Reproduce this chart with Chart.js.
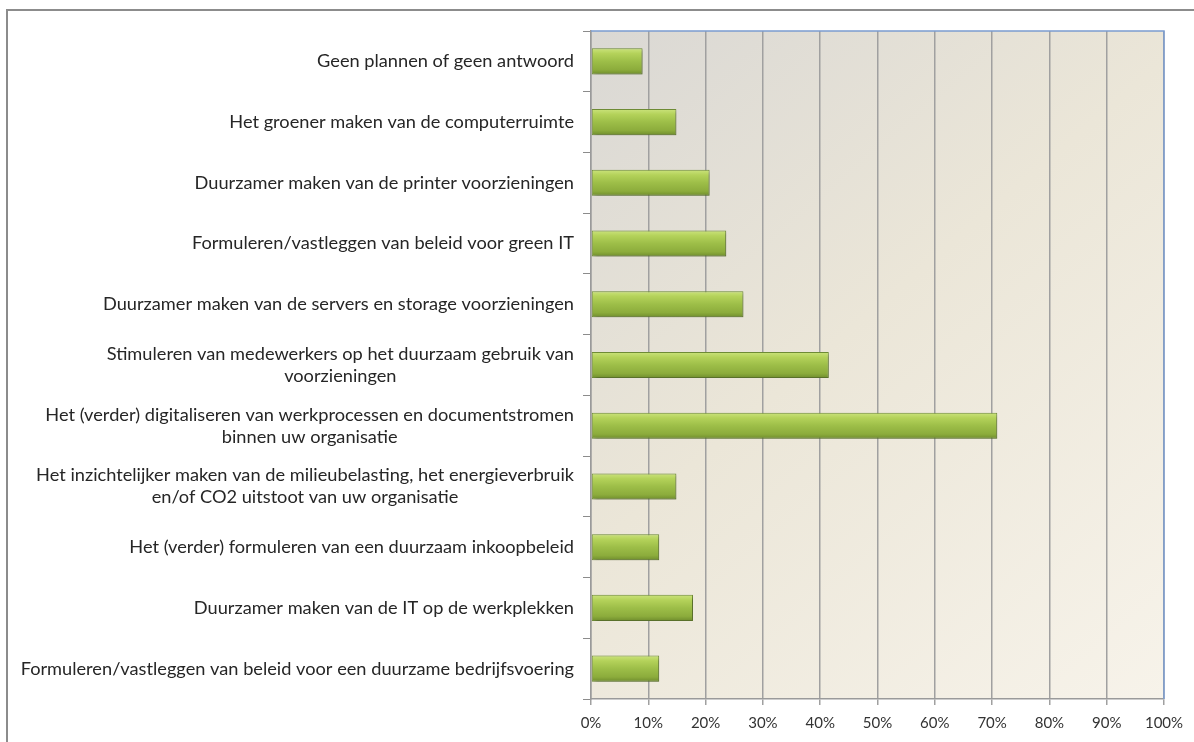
<!DOCTYPE html>
<html>
<head>
<meta charset="utf-8">
<script src="https://cdn.jsdelivr.net/npm/chart.js@4.4.1/dist/chart.umd.min.js"></script>
<style>
  html, body { margin: 0; padding: 0; background: #ffffff; }
  #wrap { position: relative; width: 1194px; height: 742px; overflow: hidden; }
  #frame { position: absolute; left: 6px; top: 9px; width: 1200px; height: 760px;
           border-top: 2px solid #8c8c8c; border-left: 2px solid #8c8c8c; box-sizing: border-box; pointer-events: none; }
  canvas { position: absolute; left: 0; top: 0; }
</style>
</head>
<body>
<div id="wrap">
  <canvas id="c" width="1194" height="742"></canvas>
  <div id="frame"></div>
</div>
<script>
// ---- data ----
const categories = [
  ['Geen plannen of geen antwoord'],
  ['Het groener maken van de computerruimte'],
  ['Duurzamer maken van de printer voorzieningen'],
  ['Formuleren/vastleggen van beleid voor green IT'],
  ['Duurzamer maken van de servers en storage voorzieningen'],
  ['Stimuleren van medewerkers op het duurzaam gebruik van', 'voorzieningen'],
  ['Het (verder) digitaliseren van werkprocessen en documentstromen', 'binnen uw organisatie'],
  ['Het inzichtelijker maken van de milieubelasting, het energieverbruik', 'en/of CO2 uitstoot van uw organisatie'],
  ['Het (verder) formuleren van een duurzaam inkoopbeleid'],
  ['Duurzamer maken van de IT op de werkplekken'],
  ['Formuleren/vastleggen van beleid voor een duurzame bedrijfsvoering']
];
const percentages = [9.0, 14.9, 20.7, 23.6, 26.6, 41.5, 70.9, 14.9, 11.9, 17.8, 11.9];
const xTickLabels = ['0%', '10%', '20%', '30%', '40%', '50%', '60%', '70%', '80%', '90%', '100%'];

// ---- layout / style ----
const PLOT_LEFT = 591, PLOT_BOTTOM = 699;
const LABEL_RIGHT = 574;
const LABEL_WIDTH_TARGET = 554;
const FONT_FAMILY = 'Lato, "Open Sans", "DejaVu Sans", sans-serif';

// fit label font so widest line spans like the reference
const mctx = document.createElement('canvas').getContext('2d');
mctx.font = '10px ' + FONT_FAMILY;
let widest = 0;
categories.forEach(lines => lines.forEach(l => { widest = Math.max(widest, mctx.measureText(l).width); }));
const labelFontSize = Math.max(10, Math.min(20, 10 * LABEL_WIDTH_TARGET / widest));

const plotBackground = {
  id: 'plotBackground',
  beforeDraw(chart) {
    const { ctx, chartArea: a } = chart;
    const g = ctx.createLinearGradient(a.left, a.top, a.right, a.bottom);
    g.addColorStop(0, '#dad8d4');
    g.addColorStop(0.45, '#ebe6d8');
    g.addColorStop(1, '#f7f3ea');
    ctx.save();
    ctx.fillStyle = g;
    ctx.fillRect(a.left, a.top, a.right - a.left, a.bottom - a.top);
    ctx.restore();
  },
  beforeDatasetsDraw(chart) {
    const ctx = chart.ctx;
    ctx.save();
    ctx.shadowColor = 'rgba(0,0,0,0.28)';
    ctx.shadowBlur = 3;
    ctx.shadowOffsetX = 2;
    ctx.shadowOffsetY = 2;
  },
  afterDatasetsDraw(chart) {
    chart.ctx.restore();
  },
  afterDraw(chart) {
    const { ctx, chartArea: a } = chart;
    ctx.save();
    ctx.strokeStyle = '#7b9ccf';
    ctx.lineWidth = 1.5;
    ctx.beginPath();
    ctx.moveTo(a.left, a.top);
    ctx.lineTo(a.right, a.top);
    ctx.lineTo(a.right, a.bottom);
    ctx.stroke();
    const yScale = chart.scales.y;
    ctx.fillStyle = '#262626';
    ctx.font = labelFontSize.toFixed(2) + 'px ' + FONT_FAMILY;
    ctx.textAlign = 'center';
    ctx.textBaseline = 'middle';
    const lh = 22;
    categories.forEach((lines, i) => {
      const cy = yScale.getPixelForValue(i);
      let w = 0;
      lines.forEach(l => { w = Math.max(w, ctx.measureText(l).width); });
      const cx = LABEL_RIGHT - w / 2;
      const y0 = cy - (lines.length - 1) * lh / 2;
      lines.forEach((l, k) => ctx.fillText(l, cx, y0 + k * lh));
    });
    ctx.restore();
  }
};

function barGradient(context) {
  const chart = context.chart;
  const yScale = chart.scales.y;
  if (!yScale || context.dataIndex === undefined) return '#9bbb59';
  const cy = yScale.getPixelForValue(context.dataIndex);
  if (!isFinite(cy)) return '#9bbb59';
  const h = 26;
  const g = chart.ctx.createLinearGradient(0, cy - h / 2, 0, cy + h / 2);
  g.addColorStop(0, '#cbe37c');
  g.addColorStop(0.2, '#b4d25a');
  g.addColorStop(0.5, '#9dbe48');
  g.addColorStop(0.82, '#8cac3c');
  g.addColorStop(1, '#6f8d2d');
  return g;
}

new Chart(document.getElementById('c'), {
  type: 'bar',
  data: {
    labels: categories.map(c => c.join(' ')),
    datasets: [{
      data: percentages,
      backgroundColor: barGradient,
      borderColor: '#6f8c35',
      borderWidth: 1,
      borderSkipped: false,
      barPercentage: 0.43,
      categoryPercentage: 1.0
    }]
  },
  options: {
    indexAxis: 'y',
    responsive: false,
    animation: false,
    devicePixelRatio: 1,
    layout: { padding: { left: 0, right: 30, top: 31, bottom: 0 } },
    plugins: { legend: { display: false }, tooltip: { enabled: false } },
    scales: {
      x: {
        min: 0, max: 100,
        ticks: {
          stepSize: 10,
          color: '#333333',
          font: { family: FONT_FAMILY, size: 15 },
          padding: 9,
          maxRotation: 0,
          callback: (v, i) => xTickLabels[i]
        },
        grid: { color: '#a0a0a0', lineWidth: 1.5, tickLength: 6, drawTicks: true },
        border: { color: '#9a9a9a', width: 1.5 },
        afterFit(scale) { scale.height = 742 - PLOT_BOTTOM; }
      },
      y: {
        ticks: { display: false },
        grid: { offset: true, drawOnChartArea: false, drawTicks: true, tickLength: 8, color: '#8c8c8c', lineWidth: 1 },
        border: { color: '#9a9a9a', width: 1.5 },
        afterFit(scale) { scale.width = PLOT_LEFT; }
      }
    }
  },
  plugins: [plotBackground]
});
</script>
</body>
</html>
